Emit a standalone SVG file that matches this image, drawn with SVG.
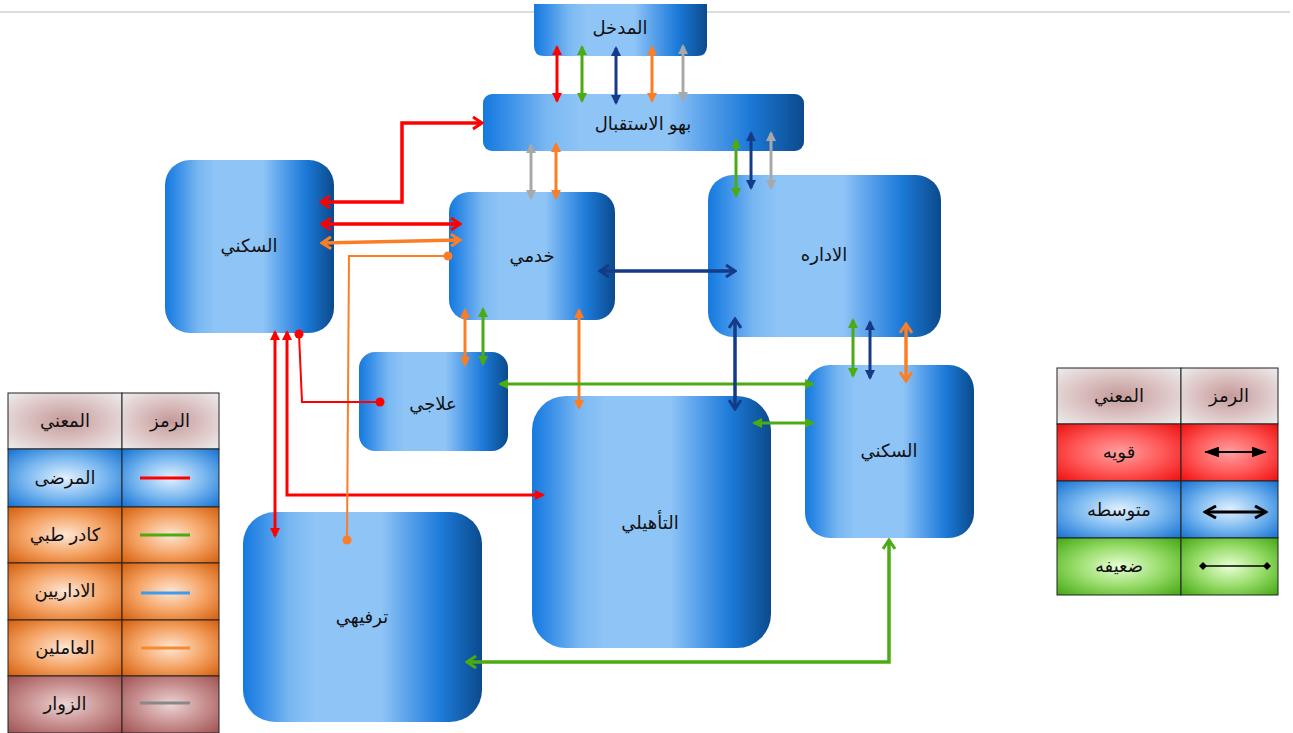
<svg xmlns="http://www.w3.org/2000/svg" width="1293" height="733" viewBox="0 0 1293 733">
<defs>
<style>
.lbl{font-family:'Liberation Sans','DejaVu Sans',sans-serif;font-size:18px;fill:#111;text-anchor:middle;dominant-baseline:central}
.box{fill:url(#boxg)}
.c{fill:none;stroke-linejoin:miter}
.s{stroke-width:3}
.m{stroke-width:3.5}
.w{stroke-width:2}
.cell{stroke:#222;stroke-width:1}
</style>
<linearGradient id="boxg" x1="0" y1="0" x2="1" y2="0">
<stop offset="0" stop-color="#1479de"/>
<stop offset="0.08" stop-color="#3a90e8"/>
<stop offset="0.2" stop-color="#7ab8f2"/>
<stop offset="0.3" stop-color="#8ec4f6"/>
<stop offset="0.58" stop-color="#8ec4f6"/>
<stop offset="0.7" stop-color="#559fea"/>
<stop offset="0.83" stop-color="#1c7ad8"/>
<stop offset="1" stop-color="#0b4a8c"/>
</linearGradient>
<radialGradient id="gHead" cx="0.5" cy="0.5" r="0.7">
<stop offset="0" stop-color="#c49a9a"/>
<stop offset="0.5" stop-color="#dcc2c2"/>
<stop offset="1" stop-color="#ececec"/>
</radialGradient>
<radialGradient id="gBlue" cx="0.5" cy="0.5" r="0.7">
<stop offset="0" stop-color="#e2f1ff"/>
<stop offset="0.5" stop-color="#7ab8f0"/>
<stop offset="1" stop-color="#1672d2"/>
</radialGradient>
<radialGradient id="gOr" cx="0.5" cy="0.5" r="0.7">
<stop offset="0" stop-color="#fde6d4"/>
<stop offset="0.5" stop-color="#f5a466"/>
<stop offset="1" stop-color="#d45f0c"/>
</radialGradient>
<radialGradient id="gBr" cx="0.5" cy="0.5" r="0.7">
<stop offset="0" stop-color="#ecd4d4"/>
<stop offset="0.5" stop-color="#c89090"/>
<stop offset="1" stop-color="#a05252"/>
</radialGradient>
<radialGradient id="gRed" cx="0.5" cy="0.5" r="0.7">
<stop offset="0" stop-color="#ffa0a0"/>
<stop offset="0.5" stop-color="#ff5a5a"/>
<stop offset="1" stop-color="#ee1010"/>
</radialGradient>
<radialGradient id="gGr" cx="0.5" cy="0.5" r="0.7">
<stop offset="0" stop-color="#e8ffd6"/>
<stop offset="0.5" stop-color="#98dc6a"/>
<stop offset="1" stop-color="#44a812"/>
</radialGradient>
<marker id="tR" viewBox="0 0 10 10" refX="8" refY="5" markerWidth="10" markerHeight="11" markerUnits="userSpaceOnUse" orient="auto-start-reverse"><path d="M0,0 L10,5 L0,10 Z" fill="#ff0000"/></marker>
<marker id="tG" viewBox="0 0 10 10" refX="8" refY="5" markerWidth="10" markerHeight="11" markerUnits="userSpaceOnUse" orient="auto-start-reverse"><path d="M0,0 L10,5 L0,10 Z" fill="#4caa12"/></marker>
<marker id="tN" viewBox="0 0 10 10" refX="8" refY="5" markerWidth="10" markerHeight="11" markerUnits="userSpaceOnUse" orient="auto-start-reverse"><path d="M0,0 L10,5 L0,10 Z" fill="#153a86"/></marker>
<marker id="tO" viewBox="0 0 10 10" refX="8" refY="5" markerWidth="10" markerHeight="11" markerUnits="userSpaceOnUse" orient="auto-start-reverse"><path d="M0,0 L10,5 L0,10 Z" fill="#fb7e26"/></marker>
<marker id="tY" viewBox="0 0 10 10" refX="8" refY="5" markerWidth="10" markerHeight="11" markerUnits="userSpaceOnUse" orient="auto-start-reverse"><path d="M0,0 L10,5 L0,10 Z" fill="#a8a8a8"/></marker>
<marker id="tK" viewBox="0 0 14 10" refX="13" refY="5" markerWidth="15" markerHeight="11" markerUnits="userSpaceOnUse" orient="auto-start-reverse"><path d="M0,0 L14,5 L0,10 Z" fill="#000"/></marker>
<marker id="cR" viewBox="0 0 12 14" refX="10" refY="7" markerWidth="12" markerHeight="14" markerUnits="userSpaceOnUse" orient="auto-start-reverse"><path d="M1,1 L10,7 L1,13" fill="none" stroke="#ff0000" stroke-width="3"/></marker>
<marker id="cG" viewBox="0 0 12 14" refX="10" refY="7" markerWidth="12" markerHeight="14" markerUnits="userSpaceOnUse" orient="auto-start-reverse"><path d="M1,1 L10,7 L1,13" fill="none" stroke="#4caa12" stroke-width="3"/></marker>
<marker id="cN" viewBox="0 0 12 14" refX="10" refY="7" markerWidth="12" markerHeight="14" markerUnits="userSpaceOnUse" orient="auto-start-reverse"><path d="M1,1 L10,7 L1,13" fill="none" stroke="#153a86" stroke-width="3"/></marker>
<marker id="cO" viewBox="0 0 12 14" refX="10" refY="7" markerWidth="12" markerHeight="14" markerUnits="userSpaceOnUse" orient="auto-start-reverse"><path d="M1,1 L10,7 L1,13" fill="none" stroke="#fb7e26" stroke-width="3"/></marker>
<marker id="cK" viewBox="0 0 14 14" refX="12" refY="7" markerWidth="14" markerHeight="14" markerUnits="userSpaceOnUse" orient="auto-start-reverse"><path d="M1,1 L12,7 L1,13" fill="none" stroke="#000" stroke-width="3"/></marker>
<marker id="dR" viewBox="0 0 10 10" refX="5" refY="5" markerWidth="10" markerHeight="10" markerUnits="userSpaceOnUse"><circle cx="5" cy="5" r="4.5" fill="#ff0000"/></marker>
<marker id="dO" viewBox="0 0 10 10" refX="5" refY="5" markerWidth="10" markerHeight="10" markerUnits="userSpaceOnUse"><circle cx="5" cy="5" r="4.5" fill="#fb7e26"/></marker>
<marker id="dK" viewBox="0 0 8 8" refX="4" refY="4" markerWidth="8" markerHeight="8" markerUnits="userSpaceOnUse"><path d="M4,0 L8,4 L4,8 L0,4 Z" fill="#000"/></marker>
</defs>

<line x1="0" y1="12" x2="1290" y2="12" stroke="#d2d2d2" stroke-width="1.5"/>

<g id="node-entrance"><path class="box" d="M534,4 H707 V46 Q707,56 697,56 H544 Q534,56 534,46 Z"/><text class="lbl" x="620" y="28">المدخل</text></g>
<g id="node-lobby"><rect class="box" x="483" y="94" width="321" height="57" rx="9"/><text class="lbl" x="643" y="124">بهو الاستقبال</text></g>
<g id="node-residential-left"><rect class="box" x="165" y="160" width="169" height="173" rx="25"/><text class="lbl" x="249" y="246">السكني</text></g>
<g id="node-service"><rect class="box" x="449" y="192" width="166" height="128" rx="20"/><text class="lbl" x="532" y="256">خدمي</text></g>
<g id="node-admin"><rect class="box" x="708" y="175" width="233" height="162" rx="25"/><text class="lbl" x="824" y="255">الاداره</text></g>
<g id="node-therapy"><rect class="box" x="359" y="352" width="149" height="99" rx="16"/><text class="lbl" x="433" y="404">علاجي</text></g>
<g id="node-rehab"><rect class="box" x="532" y="396" width="239" height="252" rx="34"/><text class="lbl" x="650" y="523">التأهيلي</text></g>
<g id="node-residential-right"><rect class="box" x="805" y="365" width="169" height="173" rx="25"/><text class="lbl" x="889" y="451">السكني</text></g>
<g id="node-recreation"><rect class="box" x="243" y="512" width="239" height="210" rx="32"/><text class="lbl" x="362" y="617">ترفيهي</text></g>

<g id="connectors" class="c">
<path class="s" stroke="#ff0000" d="M557,47 V101" marker-start="url(#tR)" marker-end="url(#tR)"/>
<path class="s" stroke="#4caa12" d="M582,47 V101" marker-start="url(#tG)" marker-end="url(#tG)"/>
<path class="s" stroke="#153a86" d="M616,48 V103" marker-start="url(#tN)" marker-end="url(#tN)"/>
<path class="s" stroke="#fb7e26" d="M652,47 V101" marker-start="url(#tO)" marker-end="url(#tO)"/>
<path class="s" stroke="#a8a8a8" d="M683,46 V100" marker-start="url(#tY)" marker-end="url(#tY)"/>
<path class="s" stroke="#a8a8a8" d="M531,145 V198" marker-start="url(#tY)" marker-end="url(#tY)"/>
<path class="s" stroke="#fb7e26" d="M556,144 V198" marker-start="url(#tO)" marker-end="url(#tO)"/>
<path class="s" stroke="#4caa12" d="M736,140 V196" marker-start="url(#tG)" marker-end="url(#tG)"/>
<path class="s" stroke="#153a86" d="M751,133 V188" marker-start="url(#tN)" marker-end="url(#tN)"/>
<path class="s" stroke="#a8a8a8" d="M771,133 V188" marker-start="url(#tY)" marker-end="url(#tY)"/>
<path class="s" stroke="#ff0000" d="M275,332 V536" marker-start="url(#tR)" marker-end="url(#tR)"/>
<path class="s" stroke="#ff0000" d="M287,332 V495 H543" marker-start="url(#tR)" marker-end="url(#tR)"/>
<path class="s" stroke="#fb7e26" d="M465,310 V365" marker-start="url(#tO)" marker-end="url(#tO)"/>
<path class="s" stroke="#4caa12" d="M483,309 V364" marker-start="url(#tG)" marker-end="url(#tG)"/>
<path class="s" stroke="#fb7e26" d="M579,310 V408" marker-start="url(#tO)" marker-end="url(#tO)"/>
<path class="s" stroke="#4caa12" d="M500,384 H813" marker-start="url(#tG)" marker-end="url(#tG)"/>
<path class="s" stroke="#4caa12" d="M754,423 H813" marker-start="url(#tG)" marker-end="url(#tG)"/>
<path class="s" stroke="#4caa12" d="M853,320 V376" marker-start="url(#tG)" marker-end="url(#tG)"/>
<path class="s" stroke="#153a86" d="M870,322 V378" marker-start="url(#tN)" marker-end="url(#tN)"/>
<path class="m" stroke="#ff0000" d="M321,202 H402 V123 H482" marker-start="url(#cR)" marker-end="url(#cR)"/>
<path class="m" stroke="#ff0000" d="M322,224 H460" marker-start="url(#cR)" marker-end="url(#cR)"/>
<path class="m" stroke="#fb7e26" d="M322,243 L460,240" marker-start="url(#cO)" marker-end="url(#cO)"/>
<path class="m" stroke="#153a86" d="M600,271 H735" marker-start="url(#cN)" marker-end="url(#cN)"/>
<path class="m" stroke="#153a86" d="M735,319 V409" marker-start="url(#cN)" marker-end="url(#cN)"/>
<path class="m" stroke="#fb7e26" d="M906,324 V381" marker-start="url(#cO)" marker-end="url(#cO)"/>
<path class="m" stroke="#4caa12" d="M889,540 V662 H467" marker-start="url(#cG)" marker-end="url(#cG)"/>
<path class="w" stroke="#fb7e26" d="M448,256 H349 L347,540" marker-start="url(#dO)" marker-end="url(#dO)"/>
<path class="w" stroke="#ff0000" d="M299,334 L302,402 H380" marker-start="url(#dR)" marker-end="url(#dR)"/>
</g>

<g id="legend-users">
<rect class="cell" x="8" y="393" width="114" height="56" fill="url(#gHead)"/>
<rect class="cell" x="122" y="393" width="97" height="56" fill="url(#gHead)"/>
<rect class="cell" x="8" y="449" width="114" height="58" fill="url(#gBlue)"/>
<rect class="cell" x="122" y="449" width="97" height="58" fill="url(#gBlue)"/>
<rect class="cell" x="8" y="507" width="114" height="56" fill="url(#gOr)"/>
<rect class="cell" x="122" y="507" width="97" height="56" fill="url(#gOr)"/>
<rect class="cell" x="8" y="563" width="114" height="57" fill="url(#gOr)"/>
<rect class="cell" x="122" y="563" width="97" height="57" fill="url(#gOr)"/>
<rect class="cell" x="8" y="620" width="114" height="56" fill="url(#gOr)"/>
<rect class="cell" x="122" y="620" width="97" height="56" fill="url(#gOr)"/>
<rect class="cell" x="8" y="676" width="114" height="57" fill="url(#gBr)"/>
<rect class="cell" x="122" y="676" width="97" height="57" fill="url(#gBr)"/>
<text class="lbl" x="65" y="421">المعني</text>
<text class="lbl" x="170" y="421">الرمز</text>
<text class="lbl" x="65" y="478">المرضى</text>
<text class="lbl" x="65" y="535">كادر طبي</text>
<text class="lbl" x="65" y="591">الاداريين</text>
<text class="lbl" x="65" y="648">العاملين</text>
<text class="lbl" x="65" y="704">الزوار</text>
<line x1="140" y1="478" x2="190" y2="478" stroke="#ff0000" stroke-width="3"/>
<line x1="140" y1="535" x2="190" y2="535" stroke="#4caa12" stroke-width="3"/>
<line x1="141" y1="593" x2="190" y2="593" stroke="#3d9be9" stroke-width="3"/>
<line x1="141" y1="648" x2="190" y2="648" stroke="#f7892f" stroke-width="3"/>
<line x1="140" y1="703" x2="190" y2="703" stroke="#888888" stroke-width="3"/>
</g>

<g id="legend-strength">
<rect class="cell" x="1057" y="368" width="124" height="56" fill="url(#gHead)"/>
<rect class="cell" x="1181" y="368" width="97" height="56" fill="url(#gHead)"/>
<rect class="cell" x="1057" y="424" width="124" height="57" fill="url(#gRed)"/>
<rect class="cell" x="1181" y="424" width="97" height="57" fill="url(#gRed)"/>
<rect class="cell" x="1057" y="481" width="124" height="57" fill="url(#gBlue)"/>
<rect class="cell" x="1181" y="481" width="97" height="57" fill="url(#gBlue)"/>
<rect class="cell" x="1057" y="538" width="124" height="57" fill="url(#gGr)"/>
<rect class="cell" x="1181" y="538" width="97" height="57" fill="url(#gGr)"/>
<text class="lbl" x="1119" y="396">المعني</text>
<text class="lbl" x="1229" y="396">الرمز</text>
<text class="lbl" x="1119" y="452">قويه</text>
<text class="lbl" x="1119" y="510">متوسطه</text>
<text class="lbl" x="1119" y="566">ضعيفه</text>
<line x1="1205" y1="452" x2="1266" y2="452" stroke="#000" stroke-width="2" marker-start="url(#tK)" marker-end="url(#tK)"/>
<line x1="1205" y1="512" x2="1266" y2="512" stroke="#000" stroke-width="3" marker-start="url(#cK)" marker-end="url(#cK)"/>
<line x1="1203" y1="566" x2="1267" y2="566" stroke="#000" stroke-width="1.5" marker-start="url(#dK)" marker-end="url(#dK)"/>
</g>
</svg>
